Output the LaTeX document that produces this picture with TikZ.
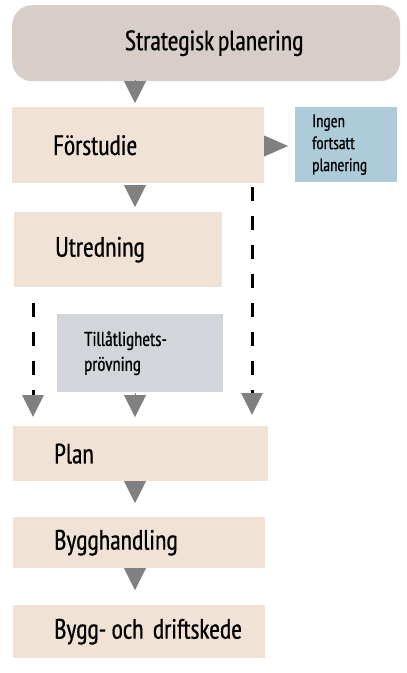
\documentclass[tikz,border=0pt]{standalone}
\usepackage{fontspec}
\setmainfont[FakeStretch=0.93,FakeBold=0.6,WordSpace=0.7]{PT Sans Narrow}
\usepackage{tikz}
\usetikzlibrary{arrows.meta}

\definecolor{stratfill}{RGB}{215,206,201}
\definecolor{stagefill}{RGB}{240,227,214}
\definecolor{stopfill}{RGB}{173,203,216}
\definecolor{testfill}{RGB}{210,213,217}
\definecolor{tipgray}{RGB}{128,128,130}

\begin{document}
\begin{tikzpicture}[%
		x=1pt,y=-1pt,
		stage/.style={%
			fill=stagefill,%
			anchor=north west,%
			inner xsep=41pt,%
			align=left,%
			font=\fontsize{28}{32}\selectfont},%
		small/.style={%
			anchor=north west,%
			align=left},%
		flow/.style={%
			tipgray,%
			-{Triangle[length=22pt,width=22pt]}},%
		skip/.style={%
			line width=3pt,%
			dash pattern=on 14pt off 15pt,%
			-{Triangle[length=22pt,width=21pt,color=tipgray]}}
		]
		\useasboundingbox (0,0) rectangle (407,673);

		% strategic level
		\node[fill=stratfill,rounded corners=20pt,anchor=north west,
			minimum width=388pt,minimum height=76pt,
			font=\fontsize{28}{32}\selectfont] (strat) at (12,5) {\hspace*{16pt}Strategisk planering};
		% stages
		\node[stage,text width=170pt,minimum height=76pt] (forst) at (12,107) {Förstudie};
		\node[stage,text width=126pt,minimum height=75pt] (utred) at (14,212) {Utredning};
		\node[stage,text width=173pt,minimum height=55pt] (plan) at (13,426) {Plan};
		\node[stage,text width=170pt,minimum height=51pt] (bygg) at (13,517) {Bygghandling};
		\node[stage,text width=170pt,minimum height=53pt] (drift) at (13,605) {\mbox{Bygg-\kern-4pt{} och driftskede}};
		% side boxes
		\node[small,fill=stopfill,inner xsep=17pt,text width=68pt,minimum height=75pt,
			font=\fontsize{18}{22}\selectfont] (stop) at (295,107) {Ingen\\fortsatt\\planering};
		\node[small,fill=testfill,inner xsep=27pt,text width=112pt,minimum height=78pt,
			font=\fontsize{20}{25}\selectfont] (test) at (57,314) {Tillåtlighets-\\prövning};

		% arrow axes
		\coordinate (axis) at (135,0);
		\coordinate (leftx) at (33,0);
		\coordinate (rightx) at (252,0);

		% main flow
		\draw[flow,shorten <=1pt,shorten >=4pt] (strat.south -| axis) -- (forst.north -| axis);
		\draw[flow,shorten <=2pt,shorten >=5pt] (forst.south -| axis) -- (utred.north -| axis);
		\draw[flow,-{Triangle[length=24pt,width=21pt]},shorten >=7pt] (forst.east |- 0,146) -- (stop.west |- 0,146);
		\draw[flow,shorten <=1pt,shorten >=9pt] (test.south -| axis) -- (plan.north -| axis);
		\draw[flow,shorten >=14pt] (plan.south -| axis) -- (bygg.north -| axis);
		\draw[flow,shorten >=15pt] (bygg.south -| axis) -- (drift.north -| axis);
		% skipped stages
		\draw[skip,shorten <=16pt,shorten >=9pt] (utred.south -| leftx) -- (plan.north -| leftx);
		\draw[skip,shorten <=4pt,shorten >=11pt] (forst.south -| rightx) -- (plan.north -| rightx);
	\end{tikzpicture}
\end{document}
